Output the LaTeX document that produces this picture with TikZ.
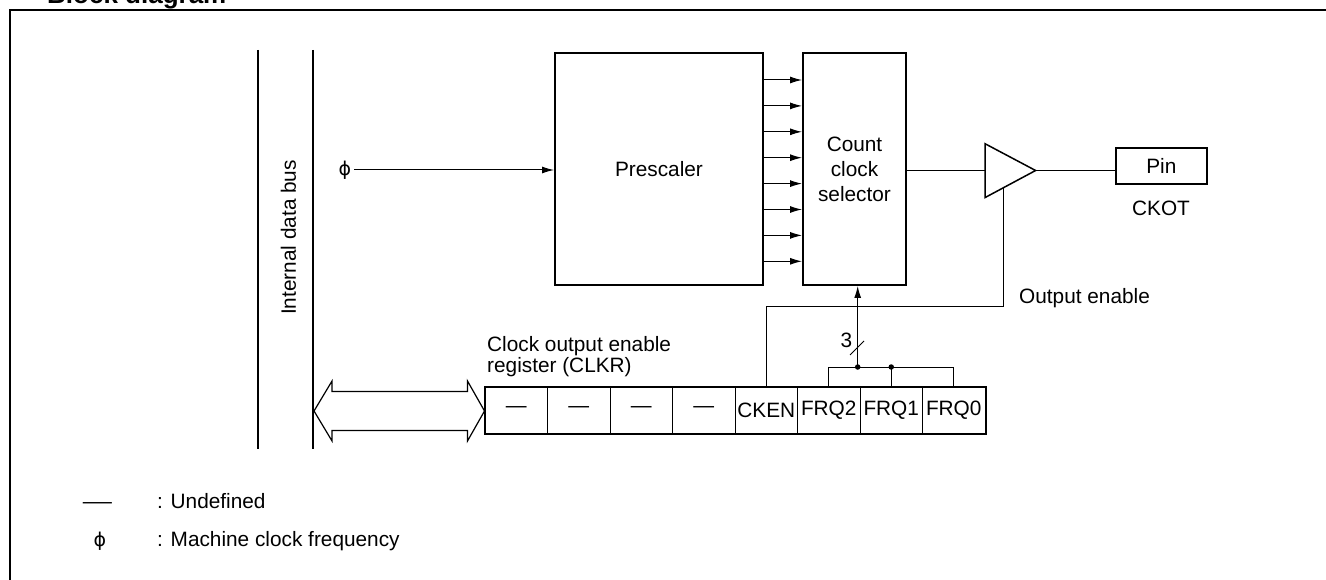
\documentclass[tikz,border=0pt]{standalone}
\usepackage{fontspec}
\setmainfont{Liberation Sans}
\newfontfamily\phifont{DejaVu Sans}
\usetikzlibrary{arrows.meta,calc}
\begin{document}
\begin{tikzpicture}[x=1pt,y=-1pt,
  txt/.style={font=\fontsize{20.8}{23}\selectfont, inner sep=0pt},
  blk/.style={draw, line width=2pt, inner sep=0pt, font=\fontsize{20.8}{25}\selectfont, align=center},
  wire/.style={line width=1pt},
  arr/.style={wire, -{Latex[length=12pt,width=7pt]}},
  cell/.style={draw, line width=1pt, minimum width=62.5pt, minimum height=46pt, inner sep=0pt, font=\fontsize{20.8}{23}\selectfont},
  dot/.style={circle, fill, inner sep=0pt, minimum size=5.5pt},
  phis/.style={inner sep=0pt, font=\phifont\fontsize{19}{23}\selectfont}
]
\useasboundingbox (0,0) rectangle (1326,580);
\fill[white] (0,0) rectangle (1326,580);

% title and frame
\node[anchor=base west, font=\bfseries\fontsize{26}{30}\selectfont, inner sep=0pt] (title) at (47,4) {Block diagram};
\draw[line width=2pt] (10,581) -- (10,10.5) -- (1327,10.5);

% internal data bus
\draw[line width=2pt] (258,50) coordinate (busLt) -- (258,449) coordinate (busLb);
\draw[line width=2pt] (313,50) coordinate (busRt) -- (313,449) coordinate (busRb);
\node[txt, rotate=90] (buslbl) at (288.5,237.5) {Internal data bus};

% blocks
\node[blk, minimum width=208pt, minimum height=232pt] (pre) at (659,169) {Prescaler};
\node[blk, minimum width=103pt, minimum height=232pt] (sel) at (854.5,169) {Count\\clock\\selector};
\node[blk, minimum width=90.7pt, minimum height=36.3pt, font=\fontsize{20.8}{23}\selectfont] (pin) at (1161.3,166) {Pin};
\node[txt] (ckot) at (1161,208) {CKOT};

% phi input
\node[phis] (phi) at (345,170.5) {ϕ};
\draw[arr, shorten <=3pt] (phi.east |- 0,170) -- (pre.west |- 0,170);

% prescaler outputs
\foreach \i in {0,...,7} {
  \draw[arr] (pre.east |- 0,{80+\i*25.9}) -- (sel.west |- 0,{80+\i*25.9});
}

% output buffer
\coordinate (bufT) at (985,143.7);
\coordinate (bufB) at (985,197.6);
\coordinate (bufL) at (985,170.5);
\coordinate (bufA) at (1035.6,170.5);
\coordinate (bufE) at (1003.6,187.8);
\draw[line width=1.5pt, line join=miter] (bufT) -- (bufA) -- (bufB) -- cycle;
\draw[wire] (sel.east |- bufL) -- (bufL);
\draw[wire] (bufA) -- (pin.west |- bufA);

% register
\foreach \i/\t in {1/—,2/—,3/—,4/—,5/CKEN,6/FRQ2,7/FRQ1,8/FRQ0} {
  \node[cell] (c\i) at ({485+62.5*(\i-0.5)},410) {\t};
}
\draw[line width=2pt] (c1.north west) rectangle (c8.south east);
\node[txt, align=left, anchor=north west, font=\fontsize{20.8}{21}\selectfont] (reglbl) at (487,336) {Clock output enable\\register (CLKR)};

% output enable
\coordinate (oe) at (bufE |- 0,306);
\draw[wire] (c5.north) |- (oe) -- (bufE);
\node[txt, anchor=base west] (oelbl) at (1019,303) {Output enable};

% frequency select bits
\coordinate (br6) at (c6.north |- 0,367);
\coordinate (br8) at (c8.north |- 0,367);
\coordinate (j7) at (c7.north |- 0,367);
\coordinate (j) at (857.7,367);
\draw[wire] (c6.north) -- (br6) -- (br8) -- (c8.north);
\draw[wire] (c7.north) -- (j7);
\node[dot] (d1) at (j) {};
\node[dot] (d2) at (j7) {};
\draw[arr] (j) -- (j |- sel.south);
\draw[wire] (850,355) -- (864,341);
\node[txt] (three) at (846.5,340) {3};

% bus <-> register double arrow
\coordinate (dL) at (314,411);
\coordinate (dR) at (c1.west |- dL);
\draw[line width=1.2pt, line join=miter]
  (dL) -- ($(dL)+(18,-30)$) -- ($(dL)+(18,-19.5)$) -- ($(dR)+(-17,-19.5)$)
  -- ($(dR)+(-17,-30)$) -- (dR) -- ($(dR)+(-17,30)$) -- ($(dR)+(-17,19.5)$)
  -- ($(dL)+(18,19.5)$) -- ($(dL)+(18,30)$) -- cycle;

% legend
\node[txt, anchor=base] (lg1s) at (97.5,508) {\scalebox{1.4}[1]{—}};
\node[txt, anchor=base west] (lg1t) at (157,508) {: Undefined};
\node[phis, anchor=base] (lg2s) at (100,546) {ϕ};
\node[txt, anchor=base west] (lg2t) at (157,546) {: Machine clock frequency};
\end{tikzpicture}
\end{document}
